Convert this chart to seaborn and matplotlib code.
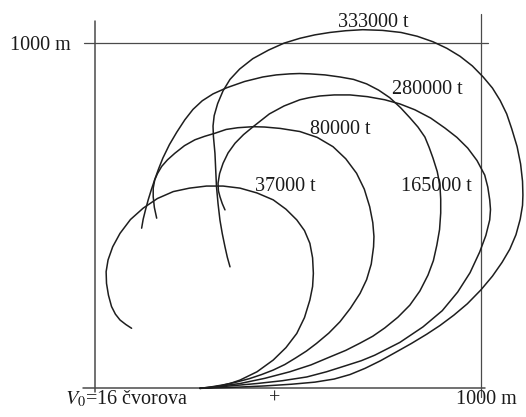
import pandas as pd
import matplotlib
matplotlib.use("Agg")
import matplotlib.pyplot as plt
import seaborn as sns

# Turning circle tracks (metres)
ships = ["37000 t", "80000 t", "165000 t", "280000 t", "333000 t"]

x_37000 = [272, 300, 324, 350, 376, 420, 462, 495, 523, 543, 557, 564, 566, 564, 557, 543, 523, 495, 462, 420,
           376, 332, 289, 245, 203, 162, 125, 92, 65, 46, 34, 29, 30, 35, 43, 53, 65, 80, 95]
y_37000 = [0, 2, 7, 14, 24, 48, 82, 118, 159, 205, 256, 295, 333, 378, 420, 457, 488, 519, 546, 566,
           580, 586, 586, 580, 570, 550, 522, 489, 449, 410, 372, 338, 304, 270, 237, 215, 198, 185, 174]

x_80000 = [272, 300, 332, 366, 400, 432, 462, 492, 520, 548, 574, 606, 635, 662, 687, 704, 716, 722, 723, 720,
           712, 698, 678, 650, 617, 576, 531, 480, 440, 410, 370, 340, 311, 284, 259, 232, 207, 188, 173, 162,
           155, 151, 151, 154, 160]
y_80000 = [0, 4, 10, 18, 28, 40, 53, 69, 88, 108, 130, 160, 193, 232, 275, 315, 360, 410, 440, 480,
           526, 577, 623, 665, 700, 727, 744, 753, 757, 758, 755, 750, 739, 730, 720, 703, 681, 662, 643, 622,
           604, 580, 555, 524, 493]

x_165000 = [272, 320, 376, 440, 505, 560, 609, 650, 687, 720, 751, 785, 816, 842, 863, 877, 886, 893, 896, 896,
            894, 887, 876, 866, 855, 837, 816, 792, 764, 735, 704, 670, 635, 596, 557, 530, 505, 470, 435, 388,
            342, 306, 278, 254, 233, 212, 193, 176, 165, 155, 146, 138, 131, 125, 121]
y_165000 = [0, 6, 14, 29, 48, 68, 91, 110, 131, 151, 175, 206, 241, 282, 328, 370, 415, 460, 508, 548,
            588, 628, 667, 698, 728, 757, 784, 813, 842, 864, 882, 895, 902, 908, 911, 912, 911, 908, 902, 889,
            871, 853, 833, 808, 778, 742, 706, 667, 636, 605, 575, 546, 517, 490, 464]

x_280000 = [272, 340, 420, 485, 549, 600, 648, 690, 725, 790, 850, 900, 940, 972, 997, 1013, 1023, 1025, 1023, 1018,
            1010, 990, 966, 938, 907, 870, 829, 790, 751, 706, 661, 620, 583, 555, 531, 490, 452, 410, 385, 363,
            345, 332, 323, 319, 320, 324, 330, 337]
y_280000 = [0, 6, 14, 22, 33, 48, 65, 80, 96, 133, 178, 225, 279, 335, 395, 443, 488, 518, 546, 583,
            618, 660, 696, 727, 754, 783, 807, 824, 836, 845, 850, 850, 847, 842, 836, 818, 795, 758, 735, 710,
            682, 652, 622, 594, 572, 555, 535, 517]

x_333000 = [272, 360, 440, 510, 570, 620, 661, 700, 740, 777, 820, 860, 894, 930, 965, 1000, 1030, 1055, 1075, 1091,
            1102, 1108, 1109, 1108, 1103, 1094, 1080, 1067, 1050, 1030, 1006, 978, 946, 912, 876, 835, 793, 745, 694, 650,
            609, 570, 531, 490, 450, 409, 375, 350, 332, 318, 309, 306, 307, 311, 313, 315, 319, 324, 330, 337,
            343, 350]
y_333000 = [0, 3, 7, 12, 18, 27, 40, 58, 80, 103, 130, 157, 182, 212, 245, 285, 325, 365, 403, 445,
            490, 530, 560, 600, 650, 700, 752, 795, 834, 870, 902, 934, 962, 985, 1004, 1020, 1031, 1037, 1039, 1036,
            1031, 1024, 1014, 1000, 980, 955, 925, 895, 862, 825, 790, 760, 730, 681, 632, 584, 535, 487, 448, 410,
            380, 352]

# label positions (left edge, centre) in metres
label_x = [414, 557, 794, 769, 630]
label_y = [584, 751, 584, 867, 1059]

tracks = [(x_37000, y_37000), (x_80000, y_80000), (x_165000, y_165000),
          (x_280000, y_280000), (x_333000, y_333000)]
rows = []
for name, (xs, ys) in zip(ships, tracks):
    for i, (a, b) in enumerate(zip(xs, ys)):
        rows.append({"ship": name, "order": i, "x": a, "y": b})
df = pd.DataFrame(rows)

sns.set_style("white")
plt.rcParams["font.family"] = ["Liberation Serif", "DejaVu Serif"]
plt.rcParams["mathtext.fontset"] = "stix"

fig = plt.figure(figsize=(5.26, 4.17), dpi=100)
ax = fig.add_axes([0, 0, 1, 1])

# frame of the diagram
frame_col = "#4a4a4a"
ax.plot([-30, 1010], [0, 0], color=frame_col, lw=1.1)
ax.plot([-28, 1019], [1000, 1000], color=frame_col, lw=0.9)
ax.plot([0, 0], [-10, 1063], color=frame_col, lw=1.1)
ax.plot([1000, 1000], [-24, 1083], color=frame_col, lw=0.9)

sns.lineplot(data=df, x="x", y="y", units="ship", estimator=None, sort=False,
             color="#1e1e1e", lw=1.1, ax=ax, legend=False)

fs = 14.5
txt_col = "#1a1a1a"
for name, lx, ly in zip(ships, label_x, label_y):
    ax.text(lx, ly, name, fontsize=fs, va="center", ha="left", color=txt_col)

ax.text(-220, 992, "1000 m", fontsize=fs, va="center", ha="left", color=txt_col)
ax.text(-78, -32, r"$V_0$=16 čvorova", fontsize=fs, va="center", ha="left", color=txt_col)
ax.text(466, -32, "+", fontsize=fs, va="center", ha="center", color=txt_col)
ax.text(1092, -32, "1000 m", fontsize=fs, va="center", ha="right", color=txt_col)

ax.set_xlim(-246, 1117)
ax.set_ylim(-83, 1125)
ax.axis("off")

fig.savefig("out.png", dpi=100)
